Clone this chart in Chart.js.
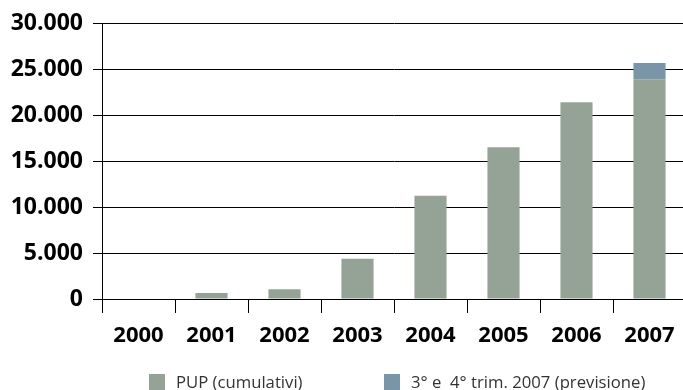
<!DOCTYPE html>
<html>
<head>
<meta charset="utf-8">
<script src="https://cdn.jsdelivr.net/npm/chart.js@4"></script>
<style>
  html, body { margin: 0; padding: 0; background: #fff; overflow: hidden; }
  #wrap { position: relative; width: 683px; height: 390px; overflow: hidden; }
  #chart { position: absolute; left: 0; top: 0; }
  #legend { position: absolute; left: 0; top: 0; width: 683px; height: 390px; pointer-events: none;
            font-family: "Open Sans", sans-serif; font-size: 16.7px; color: #333; }
  .item { position: absolute; top: 370px; display: flex; align-items: center; white-space: pre; }
  .box { width: 16px; height: 16px; margin-right: 11px; }
</style>
</head>
<body>
<div id="wrap">
  <canvas id="chart" width="686" height="390"></canvas>
  <div id="legend"></div>
</div>
<script>
// Chart data
const years = ['2000', '2001', '2002', '2003', '2004', '2005', '2006', '2007'];
const pupCumulativi = [0, 650, 1050, 4380, 11260, 16550, 21450, 23950];
const previsione = [0, 0, 0, 0, 0, 0, 0, 1770];
const seriesLabels = ['PUP (cumulativi)', '3° e  4° trim. 2007 (previsione)'];
const seriesColors = ['#95a397', '#7a94a8'];

// Format with dot as thousands separator
function fmt(v) {
  return String(v).replace(/\B(?=(\d{3})+(?!\d))/g, '.');
}

const ctx = document.getElementById('chart');

new Chart(ctx, {
  type: 'bar',
  data: {
    labels: years,
    datasets: [
      {
        label: seriesLabels[0],
        data: pupCumulativi,
        backgroundColor: seriesColors[0],
        borderWidth: 0,
        categoryPercentage: 1,
        barPercentage: 0.44
      },
      {
        label: seriesLabels[1],
        data: previsione,
        backgroundColor: seriesColors[1],
        borderWidth: 0,
        categoryPercentage: 1,
        barPercentage: 0.44
      }
    ]
  },
  options: {
    responsive: false,
    animation: false,
    layout: { padding: { top: 15, right: 0, left: 0, bottom: 0 } },
    plugins: {
      legend: { display: false },
      tooltip: { enabled: false }
    },
    scales: {
      x: {
        stacked: true,
        grid: {
          offset: true,
          drawOnChartArea: false,
          drawTicks: true,
          tickLength: 14,
          color: '#000',
          lineWidth: 1
        },
        border: { display: true, color: '#000', width: 1 },
        ticks: {
          color: '#000',
          padding: 10,
          font: { family: 'Open Sans', weight: 'bold', size: 22 }
        },
        afterFit: function(scale) { scale.height = 91; }
      },
      y: {
        stacked: true,
        min: 0,
        max: 30000,
        grid: {
          color: '#000',
          lineWidth: 1,
          tickLength: 9
        },
        border: { display: true, color: '#000', width: 1 },
        ticks: {
          stepSize: 5000,
          color: '#000',
          padding: 10,
          font: { family: 'Open Sans', weight: 'bold', size: 23 },
          callback: function(v) { return fmt(v); }
        },
        afterFit: function(scale) { scale.width = 102; }
      }
    }
  }
});

// Legend drawn as HTML text under the chart
const legend = document.getElementById('legend');
const legendX = [149, 384];
seriesLabels.forEach(function(label, i) {
  const item = document.createElement('div');
  item.className = 'item';
  item.style.left = legendX[i] + 'px';
  const box = document.createElement('span');
  box.className = 'box';
  box.style.background = seriesColors[i];
  const text = document.createElement('span');
  text.textContent = label;
  item.appendChild(box);
  item.appendChild(text);
  legend.appendChild(item);
});
</script>
</body>
</html>
